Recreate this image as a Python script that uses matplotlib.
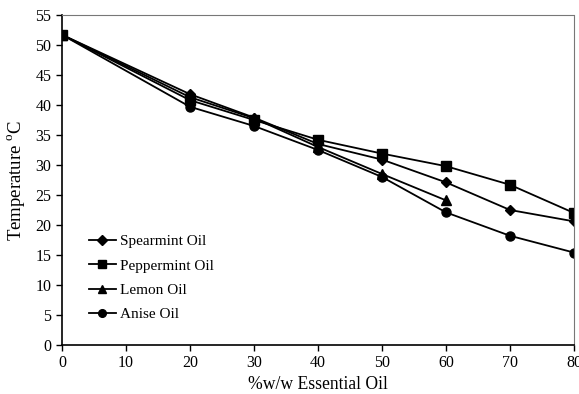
import matplotlib
matplotlib.use("Agg")
import matplotlib.pyplot as plt

plt.rcParams['font.family'] = ['Liberation Serif', 'DejaVu Serif']
plt.rcParams['mathtext.fontset'] = 'custom'
plt.rcParams['mathtext.rm'] = 'Liberation Serif'

x_all = [0, 20, 30, 40, 50, 60, 70, 80]
spearmint = [51.7, 41.8, 37.9, 33.5, 30.9, 27.1, 22.5, 20.6]
peppermint = [51.7, 40.8, 37.5, 34.2, 31.9, 29.8, 26.7, 22.0]
x_lemon = [0, 20, 30, 40, 50, 60]
lemon = [51.7, 41.3, 37.8, 33.0, 28.5, 24.1]
anise = [51.7, 39.7, 36.5, 32.5, 28.0, 22.1, 18.2, 15.4]

xticks = [0, 10, 20, 30, 40, 50, 60, 70, 80]
yticks = [0, 5, 10, 15, 20, 25, 30, 35, 40, 45, 50, 55]

fig = plt.figure(figsize=(5.79, 3.94), dpi=100)
ax = fig.add_axes([0.107, 0.1244, 0.8844, 0.8376])

kw = dict(color='black', lw=1.3, markersize=6.5)
ax.plot(x_all, spearmint, marker='D', markersize=5.5, label='Spearmint Oil', color='black', lw=1.3)
ax.plot(x_all, peppermint, marker='s', label='Peppermint Oil', **kw)
ax.plot(x_lemon, lemon, marker='^', label='Lemon Oil', **kw)
ax.plot(x_all, anise, marker='o', label='Anise Oil', **kw)

ax.set_xlim(0, 80)
ax.set_ylim(0, 55)
ax.set_xticks(xticks)
ax.set_yticks(yticks)
ax.tick_params(direction='out', length=4, width=1, labelsize=11.5, colors='black')
for s in ['left', 'bottom']:
    ax.spines[s].set_linewidth(1.2)
for s in ['top', 'right']:
    ax.spines[s].set_linestyle((0, (2, 1)))
    ax.spines[s].set_color('#777777')
    ax.spines[s].set_linewidth(0.8)

ax.set_xlabel('%w/w Essential Oil', fontsize=12.7, labelpad=3)
ax.set_ylabel('Temperature $^{\\rm o}$C', fontsize=13.5, labelpad=6)

leg = ax.legend(loc='lower left', bbox_to_anchor=(0.026, 0.03), frameon=False,
                fontsize=11, handlelength=1.75, handletextpad=0.3, labelspacing=0.7,
                markerscale=0.85)

fig.savefig('out.png', dpi=100)
